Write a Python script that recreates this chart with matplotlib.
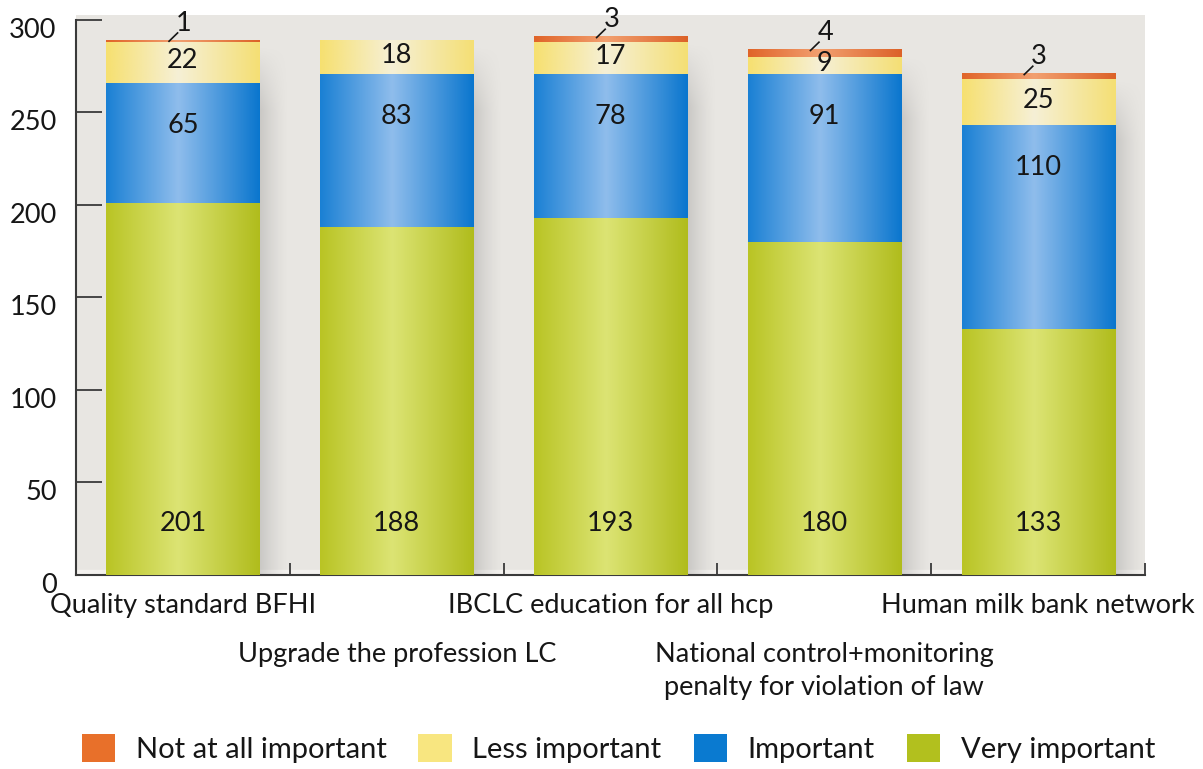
import matplotlib.pyplot as plt
import numpy as np
from matplotlib.colors import LinearSegmentedColormap
from matplotlib.patches import Patch
from matplotlib.transforms import ScaledTranslation, blended_transform_factory

# data
categories = ["Quality standard BFHI", "Upgrade the profession LC",
              "IBCLC education for all hcp",
              "National control+monitoring\npenalty for violation of law",
              "Human milk bank network"]
very_important = [201, 188, 193, 180, 133]
important = [65, 83, 78, 91, 110]
less_important = [22, 18, 17, 9, 25]
not_important = [1, 0, 3, 4, 3]
yticks = [0, 50, 100, 150, 200, 250, 300]
legend_order = ["Not at all important", "Less important", "Important", "Very important"]

# (left edge, highlight, right edge) for the cylinder look, plus flat legend colour
styles = {
    "Very important": ("#b9c424", "#dce474", "#b0bc1c", "#b2c01e"),
    "Important": ("#1a80d4", "#8fbdec", "#0a76ce", "#0a7ad0"),
    "Less important": ("#f6e070", "#f6f0d6", "#f4df74", "#f8e680"),
    "Not at all important": ("#e06428", "#f2a070", "#dc6228", "#e8702a"),
}

main_font = ["Lato", "DejaVu Sans"]
txt_col = "#161616"

fig = plt.figure(figsize=(12.03, 7.69), dpi=100)
ax = fig.add_axes([0.0632, 0.2523, 0.8886, 0.7282])
ax.set_facecolor("#e8e6e2")

x = np.arange(len(categories))
width = 0.716
grad = np.linspace(0, 1, 256).reshape(1, -1)

# soft shadow on the right of each bar, fading sideways and at the top
totals = np.array(very_important) + np.array(important) + np.array(less_important) + np.array(not_important)
nx, ny = 64, 128
side = np.linspace(0.38, 0.0, nx) ** 1.4
vert = np.clip(np.linspace(0, 1, ny) / 0.12, 0, 1)  # row 0 = top
shadow = np.zeros((ny, nx, 4))
shadow[..., :3] = 0.42
shadow[..., 3] = vert[:, None] * side[None, :]
for xi, tot in zip(x, totals):
    ax.imshow(shadow, aspect="auto", extent=[xi + width / 2, xi + width / 2 + 0.14, 0, tot - 3],
              zorder=2, interpolation="bilinear")

ax.axhspan(0, 2.5, color="#f3f1ee", zorder=1.5)

bottom = np.zeros(len(categories))
series = [("Very important", very_important), ("Important", important),
          ("Less important", less_important), ("Not at all important", not_important)]
for name, vals in series:
    c0, c1, c2, _ = styles[name]
    cmap = LinearSegmentedColormap.from_list(name, [(0, c0), (0.47, c1), (1, c2)])
    bars = ax.bar(x, vals, width, bottom=bottom, color="none", edgecolor="none", zorder=3)
    for b in bars:
        if b.get_height() <= 0:
            continue
        ax.imshow(grad, cmap=cmap, aspect="auto", zorder=3, interpolation="bilinear",
                  extent=[b.get_x(), b.get_x() + b.get_width(), b.get_y(), b.get_y() + b.get_height()])
    bottom += np.array(vals)

# value labels
fs = 19.5
imp_top = np.array(very_important) + np.array(important)
less_top = imp_top + np.array(less_important)
for i in x:
    ax.text(i, 28, str(very_important[i]), ha="center", va="center", fontsize=fs,
            family=main_font, color=txt_col, zorder=5)
    ax.text(i, imp_top[i] - 23, str(important[i]), ha="center", va="center", fontsize=fs,
            family=main_font, color=txt_col, zorder=5)
    ax.text(i, imp_top[i] + less_important[i] / 2 + 1, str(less_important[i]), ha="center",
            va="center", fontsize=fs, family=main_font, color=txt_col, zorder=5)
    if not_important[i] > 0:
        top = less_top[i] + not_important[i]
        ax.plot([i - 0.065, i - 0.025], [top - 0.5, top + 4], color=txt_col, lw=1.2, zorder=5)
        ax.text(i + 0.005, top + 9, str(not_important[i]), ha="center", va="center",
                fontsize=fs, family=main_font, color=txt_col, zorder=5)

ax.set_xlim(-0.5, 4.5)
ax.set_ylim(0, 302.7)

for s in ["top", "right"]:
    ax.spines[s].set_visible(False)
for s in ["left", "bottom"]:
    ax.spines[s].set_color("#3a3a3a")
    ax.spines[s].set_linewidth(1.5)
ax.spines["left"].set_bounds(0, 300)

ax.set_yticks(yticks)
ax.set_yticklabels([str(v) for v in yticks], family=main_font)
ax.tick_params(axis="y", direction="in", length=19, width=1.3, pad=14, labelsize=fs,
               color="#3a3a3a", labelcolor=txt_col)
for lab in ax.get_yticklabels():
    lab.set_transform(lab.get_transform() + ScaledTranslation(0, -0.08, fig.dpi_scale_trans))

# ticks at the boundaries between categories
ax.set_xticks(list(x + 0.5))
ax.set_xticklabels([])
ax.tick_params(axis="x", direction="in", length=9, width=1.3, color="#3a3a3a")

# staggered category labels
trans = blended_transform_factory(ax.transData, ax.transAxes)
for i, cat in enumerate(categories):
    yy = -0.032 if i % 2 == 0 else -0.119
    ax.text(i, yy, cat, transform=trans, ha="center", va="top", fontsize=fs,
            family=main_font, color=txt_col, linespacing=1.4, clip_on=False)

handles = [Patch(facecolor=styles[n][3], edgecolor="none") for n in legend_order]
fig.legend(handles, legend_order,
           loc="lower center", bbox_to_anchor=(0.514, -0.026), ncol=4, frameon=False,
           prop={"family": main_font, "size": 21}, handlelength=1.15, handleheight=1.1,
           columnspacing=1.1, handletextpad=0.7, labelcolor=txt_col)

fig.savefig("out.png", dpi=100, facecolor="white")
